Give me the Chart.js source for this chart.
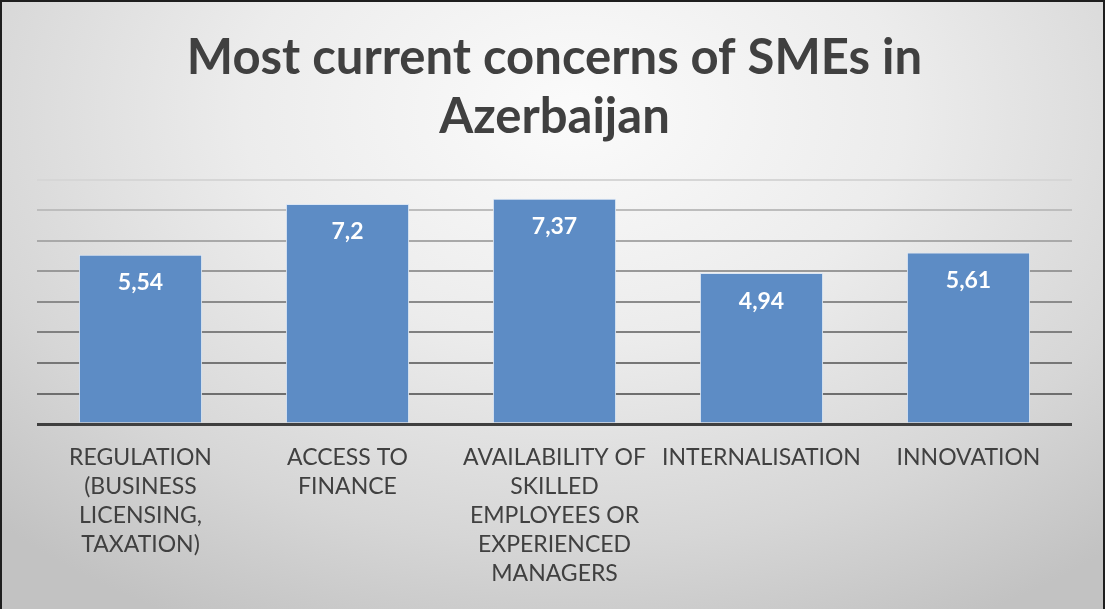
<!DOCTYPE html>
<html>
<head>
<meta charset="utf-8">
<script src="https://cdn.jsdelivr.net/npm/chart.js@4/dist/chart.umd.min.js"></script>
<style>
  html, body { margin: 0; padding: 0; }
  body { width: 1105px; height: 609px; overflow: hidden; }
  #wrap {
    position: relative;
    width: 1101px; height: 607px;
    border: 2px solid #1e1e1e; border-bottom: none;
    background: radial-gradient(ellipse 75% 95% at 52% 18%, #fbfbfb 0%, #ececec 40%, #d6d6d6 75%, #c2c2c2 100%);
  }
  canvas { display: block; }
</style>
</head>
<body>
<div id="wrap"><canvas id="chart" width="1101" height="607"></canvas></div>
<script>
const titleLines = ['Most current concerns of SMEs in', 'Azerbaijan'];
const categories = [
  ['REGULATION', '(BUSINESS', 'LICENSING,', 'TAXATION)'],
  ['ACCESS TO', 'FINANCE'],
  ['AVAILABILITY OF', 'SKILLED', 'EMPLOYEES OR', 'EXPERIENCED', 'MANAGERS'],
  ['INTERNALISATION'],
  ['INNOVATION']
];
const scores = [5.54, 7.2, 7.37, 4.94, 5.61];
const scoreLabels = ['5,54', '7,2', '7,37', '4,94', '5,61'];
const axisMax = 8;

// gridline shade by value: lighter towards the top
const gridShades = ['#3f3f3f', '#6e6e6e', '#767676', '#808080', '#8b8b8b', '#999999', '#a9a9a9', '#bdbdbd', '#d6d6d6'];

const valueLabels = {
  id: 'valueLabels',
  afterDatasetsDraw(chart) {
    const { ctx } = chart;
    const meta = chart.getDatasetMeta(0);
    ctx.save();
    ctx.fillStyle = '#ffffff';
    ctx.font = 'bold 23px Lato';
    ctx.textAlign = 'center';
    ctx.textBaseline = 'middle';
    meta.data.forEach((bar, i) => {
      ctx.fillText(scoreLabels[i], bar.x, bar.y + 28);
    });
    ctx.restore();
  }
};

new Chart(document.getElementById('chart'), {
  type: 'bar',
  data: {
    labels: categories,
    datasets: [{
      data: scores,
      backgroundColor: '#5d8cc5',
      borderColor: '#dbe6f4',
      borderWidth: 1,
      barPercentage: 1,
      categoryPercentage: 0.595
    }]
  },
  options: {
    responsive: false,
    animation: false,
    layout: { padding: { left: 35, right: 31, top: 4, bottom: 10 } },
    plugins: {
      legend: { display: false },
      tooltip: { enabled: false },
      title: {
        display: true,
        text: titleLines,
        color: '#404040',
        font: { family: 'Lato', size: 49, weight: 'bold', lineHeight: 1.22 },
        padding: { top: 22, bottom: 32 }
      }
    },
    scales: {
      y: {
        min: 0,
        max: axisMax,
        ticks: { display: false, stepSize: 1 },
        border: { display: false },
        grid: {
          drawTicks: false,
          color: (c) => gridShades[c.tick.value],
          lineWidth: (c) => (c.tick.value === 0 ? 3 : 2)
        }
      },
      x: {
        border: { display: false },
        grid: { display: false },
        ticks: {
          color: '#404040',
          font: { family: 'Lato', size: 23, lineHeight: 1.26 },
          maxRotation: 0,
          autoSkip: false,
          padding: 11
        }
      }
    }
  },
  plugins: [valueLabels]
});
</script>
</body>
</html>
